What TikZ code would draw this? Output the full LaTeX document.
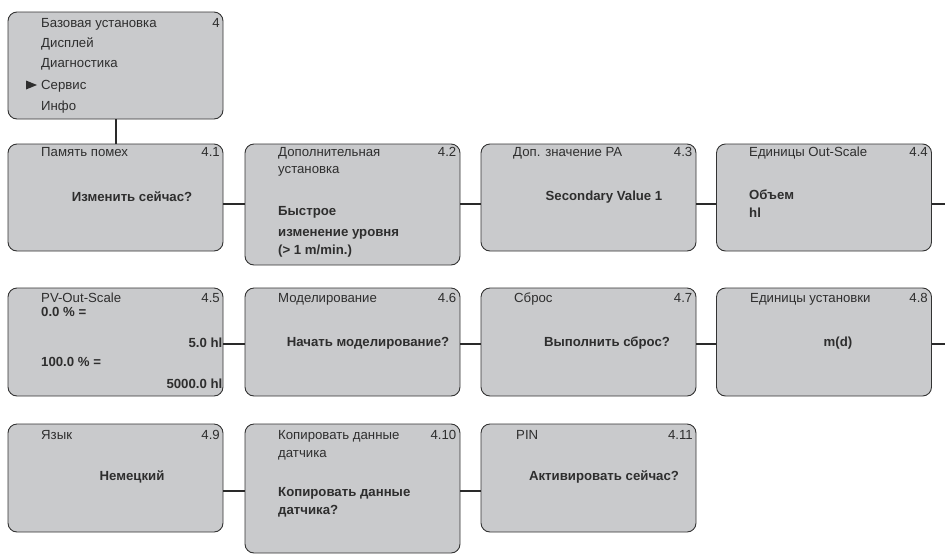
\documentclass[tikz,border=0pt]{standalone}
\usepackage{fontspec}
\setmainfont{Liberation Sans}
\definecolor{boxfill}{HTML}{C9CACC}
\definecolor{boxline}{HTML}{333333}
\definecolor{connline}{HTML}{2A2A2A}
\definecolor{txt}{HTML}{2E2E2E}
\newcommand{\dfont}{\fontsize{13.2}{15}\selectfont}
\tikzset{
  menubox/.style={draw=boxline, fill=boxfill, rounded corners=9pt, line width=0.9pt,
    minimum width=215pt, inner sep=0pt, shape=rectangle},
  ttl/.style={anchor=base west, inner sep=0pt, text=txt, font=\dfont},
  num/.style={anchor=base east, inner sep=0pt, text=txt, font=\dfont},
  valw/.style={anchor=base west, inner sep=0pt, text=txt, font=\dfont\bfseries},
  vale/.style={anchor=base east, inner sep=0pt, text=txt, font=\dfont\bfseries},
  valc/.style={anchor=base, inner sep=0pt, text=txt, font=\dfont\bfseries},
  conn/.style={draw=connline, line width=2pt},
}
\begin{document}
\begin{tikzpicture}[x=1pt,y=-1pt]
\useasboundingbox (0,0) rectangle (945,555);
% boxes
\node[menubox, minimum height=107pt] (b4) at (115.5,65.5) {};
\node[menubox, minimum height=107pt] (b41) at (115.5,197.5) {};
\node[menubox, minimum height=121pt] (b42) at (352.5,204.5) {};
\node[menubox, minimum height=107pt] (b43) at (588.5,197.5) {};
\node[menubox, minimum height=107pt] (b44) at (824,197.5) {};
\node[menubox, minimum height=108pt] (b45) at (115.5,342) {};
\node[menubox, minimum height=108pt] (b46) at (352.5,342) {};
\node[menubox, minimum height=108pt] (b47) at (588.5,342) {};
\node[menubox, minimum height=108pt] (b48) at (824,342) {};
\node[menubox, minimum height=108pt] (b49) at (115.5,478) {};
\node[menubox, minimum height=129pt] (b410) at (352.5,488.5) {};
\node[menubox, minimum height=108pt] (b411) at (588.5,478) {};
% connector levels
\coordinate (r1) at (0,204);
\coordinate (r2) at (0,344);
\coordinate (r3) at (0,491);
\coordinate (e1) at (945,204);
\coordinate (e2) at (945,344);
\draw[conn] (b4.south) -- (b41.north);
\draw[conn] (b41.east |- r1) -- (b42.west |- r1);
\draw[conn] (b42.east |- r1) -- (b43.west |- r1);
\draw[conn] (b43.east |- r1) -- (b44.west |- r1);
\draw[conn] (b44.east |- r1) -- (e1);
\draw[conn] (b45.east |- r2) -- (b46.west |- r2);
\draw[conn] (b46.east |- r2) -- (b47.west |- r2);
\draw[conn] (b47.east |- r2) -- (b48.west |- r2);
\draw[conn] (b48.east |- r2) -- (e2);
\draw[conn] (b49.east |- r3) -- (b410.west |- r3);
\draw[conn] (b410.east |- r3) -- (b411.west |- r3);
% top box texts
\node[ttl] (m1) at (41,27) {Базовая установка};
\node[num] (m1n) at (220,27) {4};
\node[ttl] (m2) at (41,47.5) {Дисплей};
\node[ttl] (m3) at (41,67.5) {Диагностика};
\node[ttl] (m4) at (41,89) {Сервис};
\node[ttl] (m5) at (41,110) {Инфо};
\fill[txt] (26,80.5) -- (26,89.5) -- (37,85) -- cycle;
% 4.1
\node[ttl] (t41) at (41,156) {Память помех};
\node[num] (n41) at (220,156) {4.1};
\node[valc] (v41) at (132,201) {Изменить сейчас?};
% 4.2
\node[ttl] (t42a) at (278,156) {Дополнительная};
\node[ttl] (t42b) at (278,173) {установка};
\node[num] (n42) at (456.5,156) {4.2};
\node[valw] (v42a) at (278,215) {Быстрое};
\node[valw] (v42b) at (278,236.5) {изменение уровня};
\node[valw] (v42c) at (278,254) {(> 1 m/min.)};
% 4.3
\node[ttl] (t43) at (513,156) {Доп. значение PA};
\node[num] (n43) at (692.5,156) {4.3};
\node[valc] (v43) at (604,200) {Secondary Value 1};
% 4.4
\node[ttl] (t44) at (749,156) {Единицы Out-Scale};
\node[num] (n44) at (928,156) {4.4};
\node[valw] (v44a) at (749,199.5) {Объем};
\node[valw] (v44b) at (749,217.5) {hl};
% 4.5
\node[ttl] (t45) at (41,302.5) {PV-Out-Scale};
\node[num] (n45) at (220,302.5) {4.5};
\node[valw] (v45a) at (41,316) {0.0 \% =};
\node[vale] (v45b) at (222.5,347) {5.0 hl};
\node[valw] (v45c) at (41,366) {100.0 \% =};
\node[vale] (v45d) at (222.5,388) {5000.0 hl};
% 4.6
\node[ttl] (t46) at (278,302.5) {Моделирование};
\node[num] (n46) at (456.5,302.5) {4.6};
\node[valc] (v46) at (368,346) {Начать моделирование?};
% 4.7
\node[ttl] (t47) at (514,302.5) {Сброс};
\node[num] (n47) at (692.5,302.5) {4.7};
\node[valc] (v47) at (607,346) {Выполнить сброс?};
% 4.8
\node[ttl] (t48) at (750,302.5) {Единицы установки};
\node[num] (n48) at (928,302.5) {4.8};
\node[valc] (v48) at (838,346) {m(d)};
% 4.9
\node[ttl] (t49) at (41,439) {Язык};
\node[num] (n49) at (220,439) {4.9};
\node[valc] (v49) at (132,480.5) {Немецкий};
% 4.10
\node[ttl] (t410a) at (278,439) {Копировать данные};
\node[ttl] (t410b) at (278,457.5) {датчика};
\node[num] (n410) at (456.5,439) {4.10};
\node[valw] (v410a) at (278,496) {Копировать данные};
\node[valw] (v410b) at (278,514) {датчика?};
% 4.11
\node[ttl] (t411) at (516,439) {PIN};
\node[num] (n411) at (693,439) {4.11};
\node[valc] (v411) at (604,480) {Активировать сейчас?};
\end{tikzpicture}
\end{document}
